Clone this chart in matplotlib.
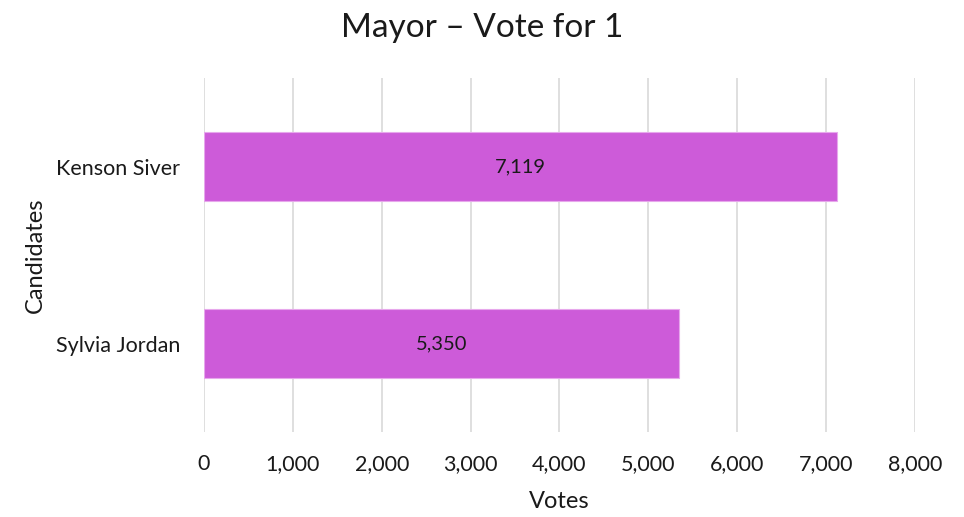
import matplotlib.pyplot as plt
from matplotlib.ticker import FuncFormatter

# data
candidates = ["Sylvia Jordan", "Kenson Siver"]
votes = [5350, 7119]
xticks = [0, 1000, 2000, 3000, 4000, 5000, 6000, 7000, 8000]

plt.rcParams["font.family"] = ["Lato", "DejaVu Sans"]

fig = plt.figure(figsize=(9.64, 5.17), dpi=100)
ax = fig.add_axes([0.2116, 0.164, 0.7375, 0.685])

bars = ax.barh(range(len(candidates)), votes, height=0.39,
               color="#CD5BD9", edgecolor="#E7A8EC", linewidth=0.8, zorder=3)

for b, v in zip(bars, votes):
    ax.text(v / 2, b.get_y() + b.get_height() / 2, f"{v:,}",
            ha="center", va="center", fontsize=14.5, color="#1a1a1a", zorder=4)

ax.set_xlim(0, 8000)
ax.set_ylim(-0.5, 1.5)
ax.set_xticks(xticks)
ax.xaxis.set_major_formatter(FuncFormatter(lambda x, p: f"{int(x):,}"))
ax.set_yticks(range(len(candidates)))
ax.set_yticklabels(candidates)

ax.grid(axis="x", color="#D9D9D9", linewidth=1.2, zorder=0)
for s in ax.spines.values():
    s.set_visible(False)
ax.tick_params(length=0, labelsize=15.5, colors="#1a1a1a")
ax.tick_params(axis="x", pad=16)
ax.tick_params(axis="y", pad=17)

ax.set_xlabel("Votes", fontsize=17, color="#1a1a1a", labelpad=12)
ax.set_ylabel("Candidates", fontsize=17, color="#1a1a1a", labelpad=7)
fig.suptitle("Mayor \u2013 Vote for 1", fontsize=24, color="#1a1a1a", y=0.975)

fig.savefig("out.png", dpi=100)
